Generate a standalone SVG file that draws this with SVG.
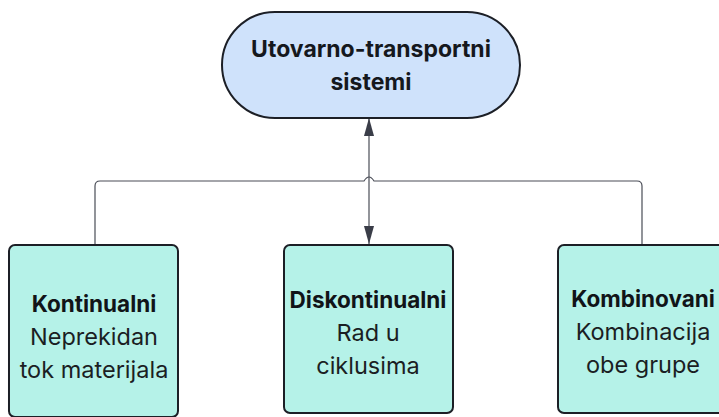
<svg xmlns="http://www.w3.org/2000/svg" width="719" height="417" viewBox="0 0 719 417">
  <defs>
    <marker id="arrow" viewBox="0 0 18 10" refX="18" refY="5" markerWidth="18" markerHeight="10" markerUnits="userSpaceOnUse" orient="auto-start-reverse">
      <path d="M0,0 L18,5 L0,10 Z" fill="#3a3d48"/>
    </marker>
    <style>
      .root { fill: #cfe2fb; stroke: #1c1f26; stroke-width: 2; }
      .leaf { fill: #b5f2e8; stroke: #1c1f26; stroke-width: 2; }
      .wire { fill: none; stroke: #4a4d57; stroke-width: 1.2; }
      .title { font-family: Inter, "Noto Sans", "Liberation Sans", sans-serif; font-size: 23px; font-weight: 700; fill: #15181d; text-anchor: middle; }
      .head { font-family: Inter, "Noto Sans", "Liberation Sans", sans-serif; font-size: 22.5px; font-weight: 700; fill: #111418; text-anchor: middle; }
      .body { font-family: Inter, "Noto Sans", "Liberation Sans", sans-serif; font-size: 23.5px; font-weight: 400; fill: #1b1e23; text-anchor: middle; }
    </style>
  </defs>
  <rect width="719" height="417" fill="#ffffff"/>

  <g id="connectors">
    <!-- branch bar with a line hop over the central arrow -->
    <path class="wire" d="M95,245 V186 Q95,181 100,181 H364 Q369,173 374,181 H637 Q642,181 642,186 V245"/>
    <line class="wire" x1="369" y1="118" x2="369" y2="244" marker-start="url(#arrow)" marker-end="url(#arrow)"/>
  </g>

  <g id="node-root">
    <rect class="root" x="222" y="12" width="298" height="106" rx="53" ry="53"/>
    <text class="title" x="371" y="57">Utovarno-transportni</text>
    <text class="title" x="371" y="90">sistemi</text>
  </g>

  <g id="node-kontinualni">
    <rect class="leaf" x="9" y="245" width="169" height="172" rx="6" ry="6"/>
    <text class="head" x="94" y="312">Kontinualni</text>
    <text class="body" x="94" y="345">Neprekidan</text>
    <text class="body" x="94" y="378">tok materijala</text>
  </g>

  <g id="node-diskontinualni">
    <rect class="leaf" x="284" y="245" width="169" height="168" rx="6" ry="6"/>
    <text class="head" x="368" y="308">Diskontinualni</text>
    <text class="body" x="368" y="341">Rad u</text>
    <text class="body" x="368" y="374">ciklusima</text>
  </g>

  <g id="node-kombinovani">
    <rect class="leaf" x="558" y="245" width="170" height="168" rx="6" ry="6"/>
    <text class="head" x="643" y="307">Kombinovani</text>
    <text class="body" x="643" y="340">Kombinacija</text>
    <text class="body" x="643" y="373">obe grupe</text>
  </g>
</svg>
